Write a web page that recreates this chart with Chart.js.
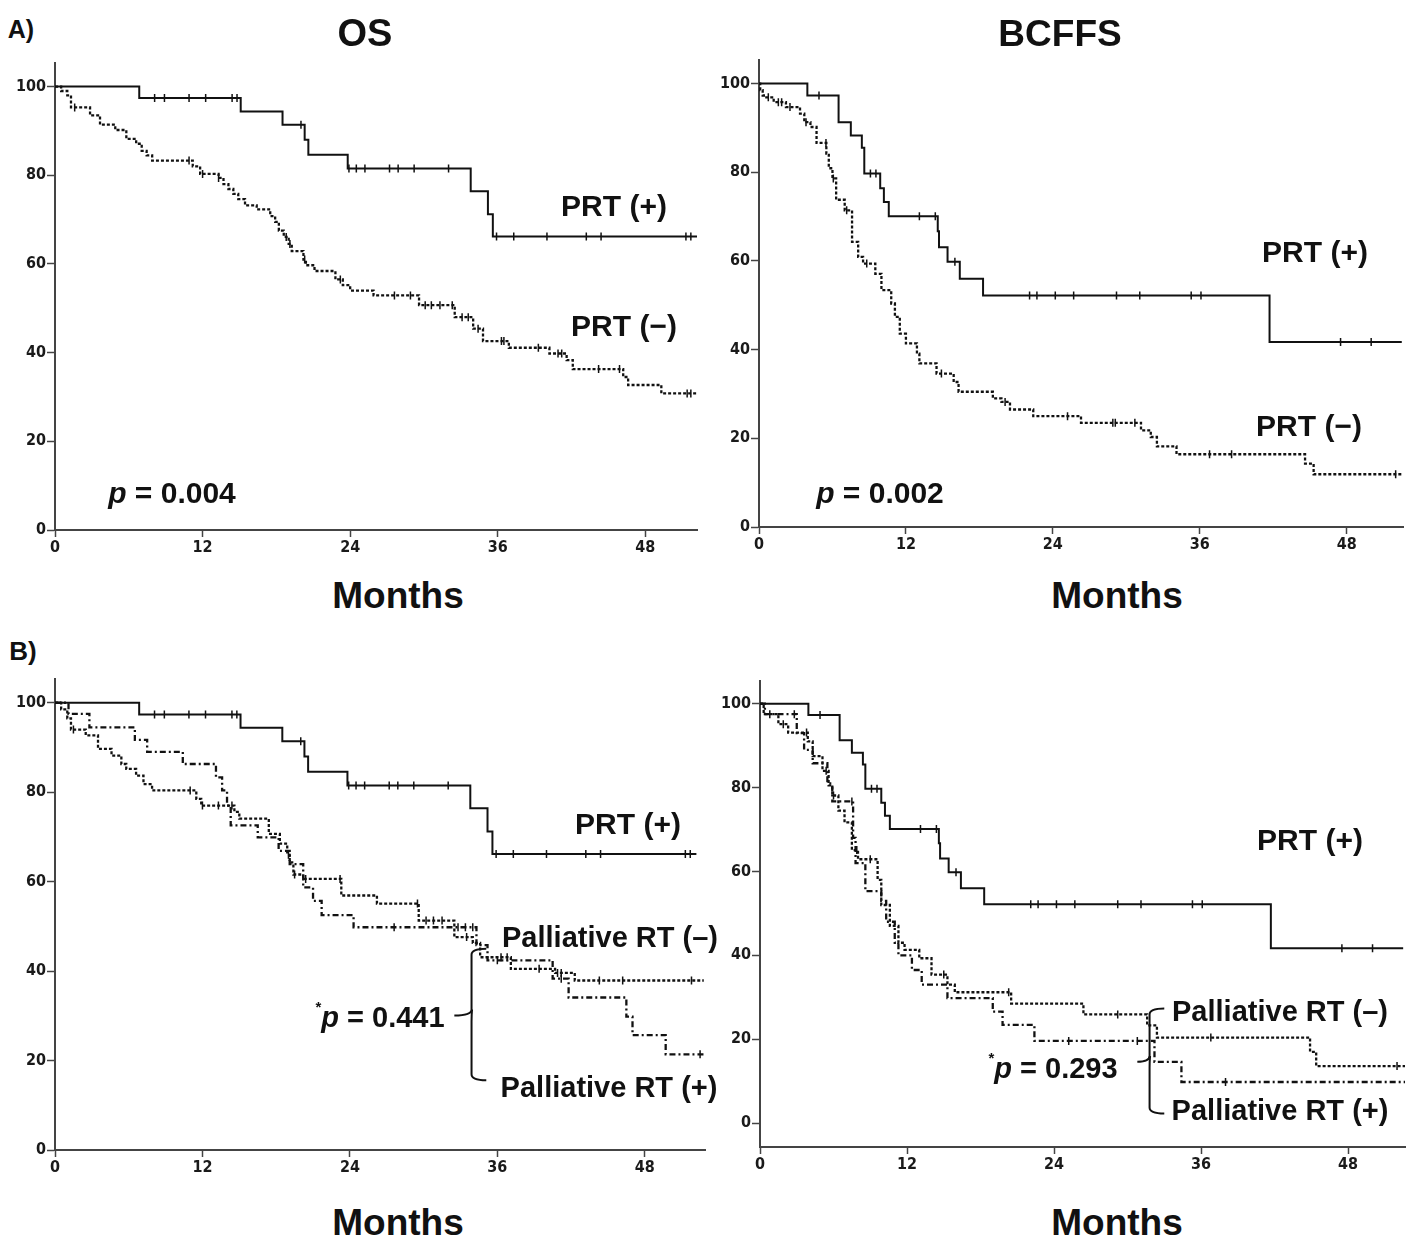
<!DOCTYPE html>
<html>
<head>
<meta charset="utf-8">
<script src="https://cdn.jsdelivr.net/npm/chart.js@4.4.1/dist/chart.umd.min.js"></script>
<style>
  body { margin: 0; background: #fff; }
  #page { position: relative; width: 1413px; height: 1239px; overflow: hidden;
          font-family: "Liberation Sans", Arial, sans-serif; }
  canvas { position: absolute; }
  .lbl { position: absolute; font-weight: bold; color: #111; white-space: nowrap;
         transform: translate(-50%, -50%); line-height: 1; }
  .lbl sup { font-size: 15px; vertical-align: 15px; }
</style>
</head>
<body>
<div id="page"></div>
<script>
// tick labels
const monthTicks = [0, 12, 24, 36, 48];
const survTicks = [0, 20, 40, 60, 80, 100];

// OS, PRT (+)  -- solid
const osPrtYesTime = [0, 6.85, 15.1, 18.5, 20.3, 20.6, 23.8, 33.8, 35.2, 35.6, 52.2];
const osPrtYesSurv = [100, 97.4, 94.4, 91.4, 88.0, 84.6, 81.5, 76.4, 71.2, 66.2, 66.2];
const osPrtYesCensor = [8.1, 8.9, 10.9, 12.25, 14.4, 14.8, 20.0, 23.9, 24.5, 25.2, 27.2, 27.9, 29.2, 32.0,
  35.9, 37.3, 40.0, 43.2, 44.4, 51.3, 51.7];

// OS, PRT (-)  -- dotted
const osPrtNoTime = [0, 0.5, 1.0, 1.3, 2.85, 3.66, 4.9, 5.8, 6.6, 7.05, 7.45, 7.9, 11.2, 11.8, 13.3, 13.7,
  14.1, 14.5, 14.9, 15.45, 16.4, 17.5, 17.9, 18.2, 18.6, 19.0, 19.25, 20.2, 20.4, 21.1, 22.8, 23.4, 24.0,
  25.9, 29.6, 32.5, 34.0, 34.8, 36.9, 40.2, 41.6, 42.1, 46.2, 46.6, 49.3, 52.2];
const osPrtNoSurv = [100, 99, 98, 95.3, 93.5, 91.4, 90.2, 88.2, 87.1, 85.5, 84.5, 83.3, 82.0, 80.3, 79.4, 78.0,
  76.9, 75.8, 74.6, 73.2, 72.3, 70.8, 69.5, 67.5, 66.1, 64.5, 62.9, 61.0, 59.7, 58.4, 56.5, 55.2, 54.0,
  52.9, 50.7, 48.0, 45.4, 42.6, 41.1, 39.8, 38.3, 36.3, 34.5, 32.7, 30.8, 30.8];
const osPrtNoCensor = [1.6, 10.9, 12.0, 13.3, 18.8, 19.1, 20.3, 23.2, 27.6, 28.9, 30.1, 30.6, 31.3, 32.3,
  33.1, 33.6, 34.4, 36.3, 36.5, 39.3, 40.9, 41.2, 44.2, 45.9, 51.4, 51.7];

// BCFFS, PRT (+)  -- solid
const bcPrtYesTime = [0, 3.95, 6.5, 7.5, 8.4, 8.6, 9.9, 10.2, 10.6, 14.6, 14.7, 15.4, 16.4, 18.3, 41.7, 52.5];
const bcPrtYesSurv = [100, 97.3, 91.3, 88.3, 85.5, 79.7, 76.4, 73.3, 70.1, 66.7, 63.1, 59.8, 56.0, 52.2, 41.7, 41.7];
const bcPrtYesCensor = [4.9, 9.1, 9.55, 13.1, 14.4, 16.0, 22.1, 22.7, 24.2, 25.7, 29.2, 31.1, 35.3, 36.1, 47.5, 50.0];

// BCFFS, PRT (-)  -- dotted
const bcPrtNoTime = [0, 0.1, 0.3, 0.6, 1.2, 2.2, 3.35, 3.7, 4.2, 4.7, 5.5, 5.7, 6.0, 6.3, 7.0, 7.6, 8.1, 8.5,
  9.5, 10.0, 10.8, 11.1, 11.5, 12.0, 12.9, 13.1, 14.5, 15.9, 16.3, 19.1, 19.8, 20.5, 22.4, 26.3, 31.2, 32.0,
  32.5, 34.1, 44.6, 45.3, 52.5];
const bcPrtNoSurv = [100, 98.5, 97.3, 96.9, 95.8, 94.7, 93.2, 91.3, 90.2, 86.6, 84.2, 80.9, 78.6, 73.8, 71.4,
  64.3, 60.9, 59.4, 57.1, 53.4, 50.4, 47.4, 43.6, 41.4, 39.1, 36.9, 34.6, 32.7, 30.5, 29.0, 28.2, 26.5, 25.0,
  23.5, 21.8, 20.3, 18.2, 16.4, 14.3, 11.9, 11.9];
const bcPrtNoCensor = [0.76, 1.58, 1.85, 2.53, 3.84, 5.47, 6.07, 7.16, 8.8, 14.9, 20.1, 25.2, 28.9, 29.1,
  30.7, 36.8, 38.6, 52.0];

// OS, palliative RT (-)  -- dotted
const osPalNoTime = [0, 0.5, 1.0, 1.3, 2.5, 3.5, 4.6, 5.4, 5.8, 6.6, 7.2, 7.9, 11.5, 11.9, 14.6, 15.0, 17.4,
  18.3, 18.9, 19.1, 19.4, 20.2, 23.3, 26.2, 29.6, 32.5, 34.0, 34.6, 37.1, 40.7, 42.3, 52.8];
const osPalNoSurv = [100, 98.5, 96.5, 94.0, 92.7, 89.7, 88.2, 86.3, 85.2, 83.7, 81.8, 80.4, 78.5, 77.0, 75.6,
  74.1, 70.7, 68.5, 66.0, 64.3, 61.6, 60.6, 56.9, 55.1, 51.3, 47.6, 46.3, 43.1, 40.5, 39.6, 37.9, 37.9];
const osPalNoCensor = [1.5, 11.0, 12.0, 13.3, 14.4, 19.0, 19.5, 20.4, 23.2, 29.5, 30.2, 30.8, 31.5, 33.5,
  36.3, 36.8, 39.4, 40.9, 41.2, 44.3, 46.2, 51.8];

// OS, palliative RT (+)  -- dash-dot
const osPalYesTime = [0, 1.1, 2.8, 6.5, 7.5, 10.4, 13.1, 13.6, 14.0, 14.3, 16.5, 18.2, 19.1, 20.2, 21.0,
  21.7, 24.3, 34.3, 35.2, 40.5, 41.8, 46.5, 47.0, 49.7, 52.8];
const osPalYesSurv = [100, 97.5, 94.5, 91.7, 89.0, 86.3, 83.3, 80.4, 77.0, 72.6, 69.9, 66.9, 63.9, 58.7, 55.7,
  52.5, 49.8, 45.8, 42.4, 38.3, 34.1, 29.8, 25.7, 21.4, 21.4];
const osPalYesCensor = [27.6, 32.8, 33.4, 34.0, 36.0, 41.2, 52.5];

// BCFFS, palliative RT (-)  -- dotted
const bcPalNoTime = [0, 0.3, 1.5, 2.3, 3.9, 4.3, 5.1, 5.6, 5.9, 6.4, 6.9, 7.5, 8.0, 9.6, 9.9, 10.6, 11.3,
  11.8, 13.0, 14.0, 15.3, 15.9, 20.5, 26.4, 31.6, 32.4, 44.9, 45.4, 52.7];
const bcPalNoSurv = [100, 97.5, 95.1, 93.1, 91.0, 87.5, 84.0, 80.5, 78.1, 74.5, 71.7, 65.1, 62.9, 58.0, 52.0,
  47.0, 43.0, 41.3, 39.3, 35.4, 33.0, 31.2, 28.5, 25.9, 23.3, 20.4, 17.0, 13.6, 13.6];
const bcPalNoCensor = [0.8, 1.9, 3.8, 5.4, 6.0, 7.9, 9.0, 15.0, 20.3, 29.2, 36.8, 52.0];

// BCFFS, palliative RT (+)  -- dash-dot
const bcPalYesTime = [0, 0.4, 3.0, 3.6, 4.3, 5.5, 5.9, 7.6, 7.8, 8.6, 9.9, 10.3, 11.0, 11.3, 12.4, 13.2, 15.3,
  19.0, 19.8, 22.4, 32.2, 34.4, 52.7];
const bcPalYesSurv = [100, 97.5, 93.0, 89.0, 85.8, 81.0, 76.7, 68.0, 62.0, 55.3, 53.0, 48.0, 43.0, 40.0, 36.5,
  33.0, 29.8, 26.6, 23.4, 19.6, 14.6, 9.8, 9.8];
const bcPalYesCensor = [2.8, 7.5, 25.2, 30.8, 38.0];

const AX_W = 50, AX_H = 30, PAD_T = 10, PAD_R = 14;
const LINE = '#111';
const AXIS = '#444';
const tickFont = { family: '"Liberation Sans Narrow", "DejaVu Sans Condensed", sans-serif', size: 16, weight: 'bold' };

function stepPoints(t, s) {
  return t.map((v, i) => ({ x: v, y: s[i] }));
}
function censorPoints(c, t, s) {
  return c.map(v => {
    let k = 0;
    for (let i = 0; i < t.length; i++) if (t[i] <= v) k = i;
    return { x: v, y: s[k] };
  });
}

const bracePlugin = {
  id: 'brace',
  afterDraw(chart, args, o) {
    if (o.t === undefined) return;
    const xs = chart.scales.x, ys = chart.scales.y, ctx = chart.ctx;
    const xv = xs.getPixelForValue(o.t), xh = xs.getPixelForValue(o.hook), xp = xs.getPixelForValue(o.ptr);
    const yt = ys.getPixelForValue(o.top), yb = ys.getPixelForValue(o.bottom), ym = ys.getPixelForValue(o.mid);
    const r = 6;
    ctx.save();
    ctx.strokeStyle = LINE;
    ctx.lineWidth = 2;
    ctx.beginPath();
    ctx.moveTo(xh, yt);
    ctx.quadraticCurveTo(xv, yt, xv, yt + r);
    ctx.lineTo(xv, ym - r);
    ctx.quadraticCurveTo(xv, ym, xp, ym);
    ctx.moveTo(xv + 0.5, ym - r);
    ctx.quadraticCurveTo(xv, ym, xv, ym + r);
    ctx.lineTo(xv, yb - r);
    ctx.quadraticCurveTo(xv, yb, xh, yb);
    ctx.stroke();
    ctx.restore();
  }
};

const panels = [
  { x0: 55, x1: 697, y0: 62, y1: 530, xMax: 52.2, yMin: 0, yMax: 105.4,
    series: [
      { t: osPrtYesTime, s: osPrtYesSurv, c: osPrtYesCensor, dash: [] },
      { t: osPrtNoTime, s: osPrtNoSurv, c: osPrtNoCensor, dash: [3, 2] }
    ] },
  { x0: 759, x1: 1403, y0: 59, y1: 527, xMax: 52.6, yMin: 0, yMax: 105.4,
    series: [
      { t: bcPrtYesTime, s: bcPrtYesSurv, c: bcPrtYesCensor, dash: [] },
      { t: bcPrtNoTime, s: bcPrtNoSurv, c: bcPrtNoCensor, dash: [3, 2] }
    ] },
  { x0: 55, x1: 705, y0: 678, y1: 1150, xMax: 52.9, yMin: 0, yMax: 105.4,
    series: [
      { t: osPrtYesTime, s: osPrtYesSurv, c: osPrtYesCensor, dash: [] },
      { t: osPalNoTime, s: osPalNoSurv, c: osPalNoCensor, dash: [3, 2] },
      { t: osPalYesTime, s: osPalYesSurv, c: osPalYesCensor, dash: [6, 3, 2, 3] }
    ],
    brace: { t: 33.9, hook: 35.1, ptr: 32.5, top: 45.0, mid: 30.1, bottom: 15.6 } },
  { x0: 760, x1: 1405, y0: 680, y1: 1147, xMax: 52.65, yMin: -5.7, yMax: 105.5,
    series: [
      { t: bcPrtYesTime, s: bcPrtYesSurv, c: bcPrtYesCensor, dash: [] },
      { t: bcPalNoTime, s: bcPalNoSurv, c: bcPalNoCensor, dash: [3, 2] },
      { t: bcPalYesTime, s: bcPalYesSurv, c: bcPalYesCensor, dash: [6, 3, 2, 3] }
    ],
    brace: { t: 31.8, hook: 33.0, ptr: 30.8, top: 27.3, mid: 14.6, bottom: 2.3 } }
];

const page = document.getElementById('page');

panels.forEach(p => {
  const cv = document.createElement('canvas');
  cv.width = (p.x1 - p.x0) + AX_W + PAD_R;
  cv.height = (p.y1 - p.y0) + PAD_T + AX_H;
  cv.style.left = (p.x0 - AX_W) + 'px';
  cv.style.top = (p.y0 - PAD_T) + 'px';
  page.appendChild(cv);

  const datasets = [];
  p.series.forEach(sr => {
    datasets.push({
      data: stepPoints(sr.t, sr.s),
      stepped: 'before',
      borderColor: LINE,
      borderWidth: sr.dash.length ? 2.3 : 2,
      borderDash: sr.dash,
      pointRadius: 0,
      fill: false
    });
    datasets.push({
      data: censorPoints(sr.c, sr.t, sr.s),
      showLine: false,
      pointStyle: 'line',
      rotation: 90,
      pointRadius: 4,
      borderColor: LINE,
      pointBorderColor: LINE,
      pointBorderWidth: 1.5
    });
  });

  new Chart(cv, {
    type: 'line',
    data: { datasets: datasets },
    options: {
      responsive: false,
      animation: false,
      devicePixelRatio: 1,
      layout: { padding: { left: 0, right: PAD_R, top: PAD_T, bottom: 0 } },
      plugins: { legend: { display: false }, tooltip: { enabled: false }, brace: p.brace || {} },
      scales: {
        x: {
          type: 'linear', min: 0, max: p.xMax,
          afterBuildTicks: s => { s.ticks = monthTicks.map(v => ({ value: v })); },
          afterFit: s => { s.height = AX_H; },
          grid: { drawOnChartArea: false, drawTicks: true, tickLength: 7, tickColor: AXIS, tickWidth: 1.5 },
          border: { display: true, color: AXIS, width: 2 },
          ticks: { font: tickFont, color: '#1a1a1a', padding: 1, maxRotation: 0, autoSkip: false }
        },
        y: {
          type: 'linear', min: p.yMin, max: p.yMax,
          afterBuildTicks: s => { s.ticks = survTicks.map(v => ({ value: v })); },
          afterFit: s => { s.width = AX_W; },
          grid: { drawOnChartArea: false, drawTicks: true, tickLength: 8, tickColor: AXIS, tickWidth: 1.5 },
          border: { display: true, color: AXIS, width: 2 },
          ticks: { font: tickFont, color: '#1a1a1a', padding: 1, autoSkip: false }
        }
      }
    },
    plugins: [bracePlugin]
  });
});

// text on the figure
const notes = [
  ['A)', 21, 29, 25],
  ['B)', 23, 651, 26],
  ['OS', 365, 33, 38],
  ['BCFFS', 1060, 33, 37],
  ['Months', 398, 595, 37],
  ['Months', 1117, 595, 37],
  ['Months', 398, 1222, 37],
  ['Months', 1117, 1222, 37],
  ['PRT (+)', 614, 206, 30],
  ['PRT (\u2212)', 624, 326, 30],
  ['<i>p</i> = 0.004', 172, 493, 30],
  ['PRT (+)', 1315, 252, 30],
  ['PRT (\u2212)', 1309, 426, 30],
  ['<i>p</i> = 0.002', 880, 493, 30],
  ['PRT (+)', 628, 824, 30],
  ['Palliative RT (\u2013)', 610, 937, 29],
  ['<sup>*</sup><i>p</i> = 0.441', 380, 1015, 29],
  ['Palliative RT (+)', 609, 1087, 29],
  ['PRT (+)', 1310, 840, 30],
  ['Palliative RT (\u2013)', 1280, 1011, 29],
  ['<sup>*</sup><i>p</i> = 0.293', 1053, 1066, 29],
  ['Palliative RT (+)', 1280, 1110, 29]
];
notes.forEach(n => {
  const d = document.createElement('div');
  d.className = 'lbl';
  d.innerHTML = n[0];
  d.style.left = n[1] + 'px';
  d.style.top = n[2] + 'px';
  d.style.fontSize = n[3] + 'px';
  page.appendChild(d);
});
</script>
</body>
</html>
